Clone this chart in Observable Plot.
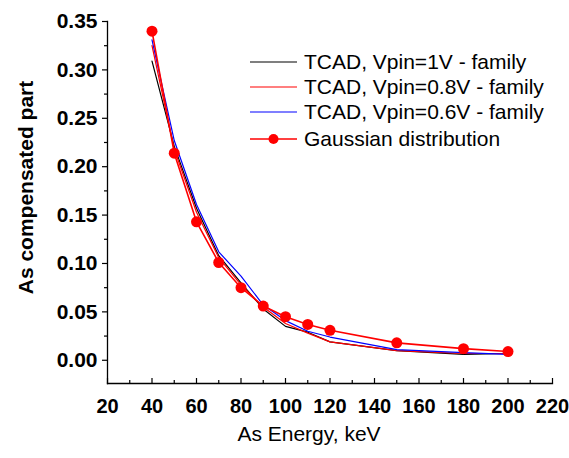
<!DOCTYPE html>
<html><head><meta charset="utf-8">
<script src="https://cdn.jsdelivr.net/npm/d3@7"></script>
<script src="https://cdn.jsdelivr.net/npm/@observablehq/plot@0.6"></script>
<style>
html,body{margin:0;padding:0;background:#fff;}
#wrap{position:relative;width:569px;height:458px;font-family:"Liberation Sans",Arial,sans-serif;}
#legend{position:absolute;left:0;top:0;}
.row{position:absolute;left:250px;height:26px;line-height:26px;font-size:21px;color:#000;white-space:nowrap;display:flex;align-items:center;}
.row svg{display:block;margin-right:7px;}
</style></head><body><div id="wrap"><div id="chart"></div><div id="legend"></div></div>
<script>
const energy = [40, 50, 60, 70, 80, 90, 100, 110, 120, 150, 180, 200];
const tcad1V  = [0.309, 0.221, 0.157, 0.108, 0.080, 0.053, 0.035, 0.029, 0.019, 0.010, 0.006, 0.007];
const tcad08V = [0.325, 0.218, 0.153, 0.106, 0.078, 0.055, 0.038, 0.028, 0.019, 0.010, 0.007, 0.007];
const tcad06V = [0.331, 0.227, 0.161, 0.112, 0.087, 0.057, 0.041, 0.030, 0.024, 0.011, 0.008, 0.006];
const gaussian = [0.340, 0.214, 0.143, 0.101, 0.075, 0.056, 0.045, 0.037, 0.031, 0.018, 0.012, 0.009];

const seriesNames = ["TCAD, Vpin=1V - family", "TCAD, Vpin=0.8V - family", "TCAD, Vpin=0.6V - family", "Gaussian distribution"];
const seriesColors = ["#000000", "#ff0000", "#0000ff", "#ff0000"];

const xMajorTicks = [20, 40, 60, 80, 100, 120, 140, 160, 180, 200, 220];
const xMinorTicks = [30, 50, 70, 90, 110, 130, 150, 170, 190, 210];
const yMajorTicks = [0, 0.05, 0.10, 0.15, 0.20, 0.25, 0.30, 0.35];
const yMinorTicks = [0.025, 0.075, 0.125, 0.175, 0.225, 0.275, 0.325];
const xDomain = [20, 220];
const yDomain = [-0.024, 0.35];
const xTitle = "As Energy, keV";
const yTitle = "As compensated part";

const tcadSeries = [tcad1V, tcad08V, tcad06V];
const tcadRows = tcadSeries.flatMap((vals, i) => energy.map((e, j) => ({x: e, y: vals[j], series: seriesNames[i]})));
const gaussRows = energy.map((e, j) => ({x: e, y: gaussian[j], series: seriesNames[3]}));

const chart = Plot.plot({
  width: 569, height: 458,
  marginLeft: 107, marginRight: 17, marginTop: 21, marginBottom: 75,
  x: {domain: xDomain},
  y: {domain: yDomain},
  color: {domain: seriesNames.slice(0, 3), range: seriesColors.slice(0, 3)},
  style: {fontFamily: "'Liberation Sans', Arial, sans-serif", fontSize: "20px", color: "#000", background: "#fff"},
  marks: [
    Plot.frame({anchor: "left", stroke: "#000", strokeWidth: 1.3}),
    Plot.frame({anchor: "bottom", stroke: "#000", strokeWidth: 1.3}),
    Plot.axisY({ticks: yMajorTicks, tickSize: 5, tickPadding: 5, tickFormat: d3.format(".2f"), label: null, fontWeight: "bold", fontSize: 21, letterSpacing: 1, strokeWidth: 1.2}),
    Plot.axisY({ticks: yMinorTicks, tickSize: 3, tickFormat: () => "", label: null, strokeWidth: 1.2}),
    Plot.axisX({ticks: xMajorTicks, tickSize: 5, dy: -5, tickFormat: () => "", label: null, strokeWidth: 1.2}),
    Plot.axisX({ticks: xMinorTicks, tickSize: 3, dy: -3, tickFormat: () => "", label: null, strokeWidth: 1.2}),
    Plot.axisX({ticks: xMajorTicks, tickSize: 0, tickPadding: 15, tickFormat: d3.format("d"), label: null, fontWeight: "bold", fontSize: 20}),
    Plot.text([yTitle], {frameAnchor: "left", textAnchor: "middle", lineAnchor: "middle", rotate: -90, dx: -81, dy: -15, fontWeight: "bold", fontSize: 21, text: d => d}),
    Plot.text([xTitle], {frameAnchor: "bottom", textAnchor: "middle", dx: -21, dy: 57, fontSize: 21, text: d => d}),
    Plot.line(tcadRows, {x: "x", y: "y", z: "series", stroke: "series", strokeWidth: 1.2}),
    Plot.line(gaussRows, {x: "x", y: "y", stroke: seriesColors[3], strokeWidth: 1.6}),
    Plot.dot(gaussRows, {x: "x", y: "y", r: 5.5, fill: seriesColors[3], stroke: null})
  ]
});
document.getElementById("chart").append(chart);

const legendRowsY = [62, 87, 112, 139];
const legend = document.getElementById("legend");
seriesNames.forEach((name, i) => {
  const row = document.createElement("div");
  row.className = "row";
  row.style.top = (legendRowsY[i] - 13) + "px";
  const dot = i === 3 ? `<circle cx="23.5" cy="13" r="5" fill="${seriesColors[i]}"/>` : "";
  const sw = i === 3 ? 1.6 : 1.2;
  row.innerHTML = `<svg width="47" height="26"><line x1="0" x2="47" y1="13" y2="13" stroke="${seriesColors[i]}" stroke-width="${sw}"/>${dot}</svg><span>${name}</span>`;
  legend.append(row);
});
</script></body></html>
